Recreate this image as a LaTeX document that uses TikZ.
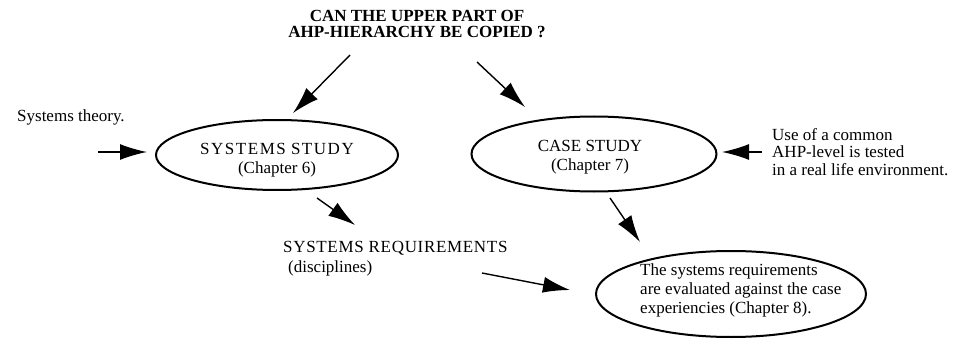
\documentclass[tikz,border=0pt]{standalone}
\usepackage{fontspec}
\setmainfont{Liberation Serif}
\usetikzlibrary{arrows.meta,shapes.geometric}
\begin{document}
\begin{tikzpicture}[x=1pt,y=-1pt,
  oval/.style={ellipse, draw, line width=2pt, inner sep=0pt},
  arr/.style={line width=1.4pt, -{Latex[length=27pt,width=16pt]}},
  txt/.style={inner sep=0pt, font=\fontsize{17}{19.5}\selectfont}]
\useasboundingbox (0,0) rectangle (956,342);
% title
\node[inner sep=0pt, font=\bfseries\fontsize{17}{15.5}\selectfont, align=center] (title) at (417,24)
  {CAN THE UPPER PART OF\\AHP-HIERARCHY BE COPIED ?};
% ellipses
\node[oval, minimum width=242, minimum height=70] (sys) at (277,155) {};
\node[txt, align=center] (sysT) at (277,160)
  {\addfontfeature{LetterSpace=9}SYSTEMS\hspace{0.3em}STUDY\\(Chapter 6)};
\node[oval, minimum width=245, minimum height=75] (case) at (594,154) {};
\node[txt, align=center] (caseT) at (590,157) {CASE STUDY\\(Chapter 7)};
\node[oval, minimum width=270, minimum height=86] (eval) at (731,294) {};
\node[txt, align=left, anchor=west, font=\fontsize{17}{19}\selectfont] (evalT) at (640,290)
  {The systems requirements\\are evaluated against the case\\experiencies (Chapter 8).};
% side texts
\node[txt, anchor=west] (theory) at (17,117) {Systems theory.};
\node[txt, align=left, anchor=west, font=\fontsize{17}{17.5}\selectfont] (use) at (772,152)
  {Use of a common\\AHP-level is tested\\in a real life environment.};
\node[txt, anchor=west] (req) at (283,248) {\addfontfeature{LetterSpace=4}SYSTEMS REQUIREMENTS};
\node[txt, anchor=west] (disc) at (288,268) {(disciplines)};
% connector ends
\coordinate (a1s) at (350,55);  \coordinate (a1e) at (293,113);
\coordinate (a2s) at (477,62);  \coordinate (a2e) at (525,107);
\coordinate (a3s) at (98,152);  \coordinate (a3e) at (147,152);
\coordinate (a4s) at (762,152); \coordinate (a4e) at (722,152);
\coordinate (a5s) at (317,198); \coordinate (a5e) at (355,225);
\coordinate (a6s) at (610,198); \coordinate (a6e) at (640,242);
\coordinate (a7s) at (482,273); \coordinate (a7e) at (570,290);
\draw[arr] (a1s) -- (a1e);
\draw[arr] (a2s) -- (a2e);
\draw[arr] (a3s) -- (a3e);
\draw[arr] (a4s) -- (a4e);
\draw[arr] (a5s) -- (a5e);
\draw[arr] (a6s) -- (a6e);
\draw[arr] (a7s) -- (a7e);
\end{tikzpicture}
\end{document}
